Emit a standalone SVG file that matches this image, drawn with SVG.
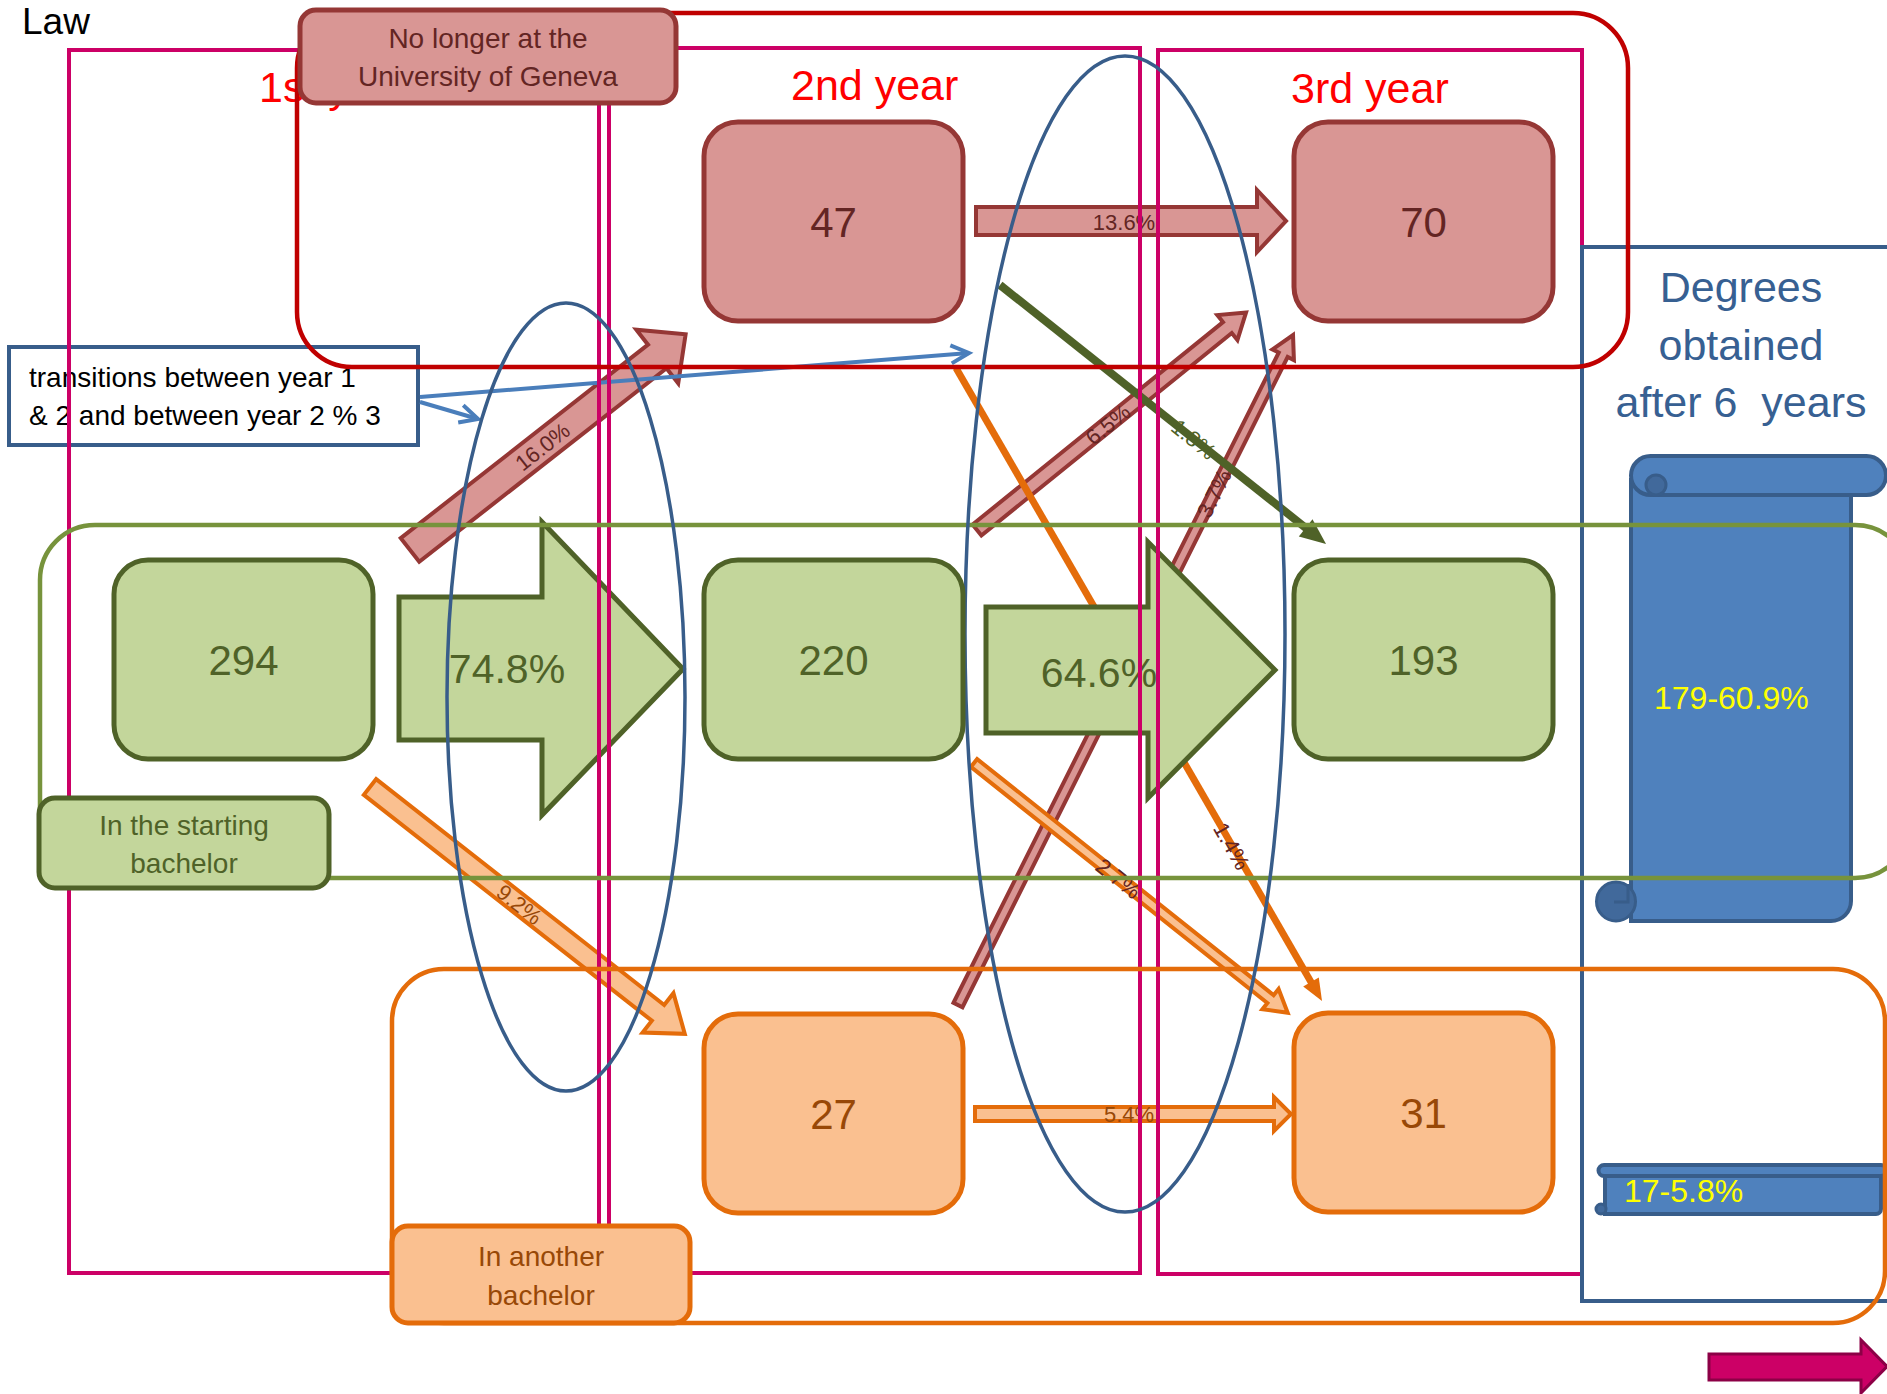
<svg xmlns="http://www.w3.org/2000/svg" width="1887" height="1394" viewBox="0 0 1887 1394">
<defs>
<style>
text{font-family:"Liberation Sans",Arial,sans-serif}
.year{fill:none;stroke:#CC0066;stroke-width:4}
.ell{fill:none;stroke:#385D8A;stroke-width:3.5}
.grp{fill:none;stroke-width:4.5}
.node rect{stroke-width:5}
.g rect{fill:#C3D69B;stroke:#4F6228}
.p rect{fill:#D99694;stroke:#953735}
.o rect{fill:#FAC090;stroke:#E46C0A}
.g text{fill:#4F6228}
.p text{fill:#632523}
.o text{fill:#984807}
.num{font-size:42px;text-anchor:middle}
.cat{font-size:28px;text-anchor:middle}
.yl{font-size:43px;fill:#FF0000}
.lbl{font-size:22px;text-anchor:middle}
.pArr{fill:#D99694;stroke:#953735;stroke-width:4;stroke-linejoin:miter}
.oArr{fill:#FAC090;stroke:#E46C0A;stroke-width:4;stroke-linejoin:miter}
.bigArr{fill:#C3D69B;stroke:#4F6228;stroke-width:5}
.scroll{fill:#4F81BD;stroke:#385D8A;stroke-width:4}
.curl{fill:#41699B;stroke:#385D8A;stroke-width:3}
.blueLine{fill:none;stroke:#4A7EBB;stroke-width:4}
</style>
<marker id="mGreen" markerUnits="userSpaceOnUse" markerWidth="26" markerHeight="22" refX="4" refY="11" orient="auto" overflow="visible"><path d="M0,0 L26,11 L0,22 Z" fill="#4F6228"/></marker>
<marker id="mOrange" markerUnits="userSpaceOnUse" markerWidth="22" markerHeight="18" refX="4" refY="9" orient="auto" overflow="visible"><path d="M0,0 L22,9 L0,18 Z" fill="#E46C0A"/></marker>
<marker id="mBlue" markerUnits="userSpaceOnUse" markerWidth="20" markerHeight="20" refX="18" refY="9" orient="auto" overflow="visible"><path d="M0,0 L18,9 L0,18" fill="none" stroke="#4A7EBB" stroke-width="4"/></marker>
</defs>
<rect width="1887" height="1394" fill="#FFFFFF"/>

<g id="title"><text x="22" y="34" font-size="37" fill="#000000">Law</text></g>

<g id="legend">
<rect x="9" y="347" width="409" height="98" fill="none" stroke="#385D8A" stroke-width="4"/>
<text x="29" y="387" font-size="28" fill="#000000">transitions between year 1</text>
<text x="29" y="425" font-size="28" fill="#000000">&amp; 2 and between year 2 % 3</text>
</g>

<g id="degrees-scrolls">
<path class="scroll" d="M1631,480 V921 H1831 A20,20 0 0 0 1851,901 V480 Z"/>
<circle class="curl" cx="1616" cy="901.5" r="19.5" fill="#4672AA"/>
<path d="M1628,884 V902 H1614" fill="none" stroke="#385D8A" stroke-width="3"/>
<path class="scroll" d="M1650.5,456 H1866.5 A19.5,19.5 0 0 1 1866.5,495 H1650.5 A19.5,19.5 0 0 1 1650.5,456 Z"/>
<circle class="curl" cx="1656" cy="485" r="10"/>
<text x="1654" y="709" font-size="32" fill="#FFFF00">179-60.9%</text>
<path class="scroll" d="M1605,1172 V1214 H1876 A5,5 0 0 0 1881,1209 V1172 Z"/>
<path class="scroll" d="M1604,1165 H1881 A5.5,5.5 0 0 1 1881,1176 H1604 A5.5,5.5 0 0 1 1604,1165 Z" fill="#3B5E8C"/>
<circle class="curl" cx="1601" cy="1209" r="5"/>
<text x="1624" y="1202" font-size="32" fill="#FFFF00">17-5.8%</text>
</g>

<g id="connectors">
<polygon class="pArr" points="976,207 1257,207 1257,190 1286,221 1257,252 1257,235 976,235"/>
<text class="lbl" x="1124" y="230" fill="#632523">13.6%</text>

<polygon class="oArr" points="975,1107 1274,1107 1274,1097 1291,1114 1274,1131 1274,1121 975,1121"/>
<text class="lbl" x="1129" y="1122" fill="#984807">5.4%</text>

<g transform="translate(410 550) rotate(-38.05)">
<path class="pArr" d="M0,-15 H314 V-34 L350,0 L314,34 V15 H0 Z"/>
<text class="lbl" x="168" y="8" fill="#632523">16.0%</text>
</g>
<g transform="translate(977 530) rotate(-38.96)">
<path class="pArr" d="M0,-7 H322 V-16 L346,0 L322,16 V7 H0 Z"/>
<text class="lbl" x="168" y="8" fill="#632523">6.5%</text>
</g>
<g transform="translate(958 1005) rotate(-63.43)">
<path class="pArr" d="M0,-5 H727 V-12 L749,0 L727,12 V5 H0 Z"/>
<text class="lbl" x="572" y="8" fill="#632523">3.7%</text>
</g>
<g transform="translate(370 787) rotate(38.1)">
<path class="oArr" d="M0,-10 H366 V-25 L400,0 L366,25 V10 H0 Z"/>
<text class="lbl" x="190" y="8" fill="#984807">9.2%</text>
</g>
<g transform="translate(974 763) rotate(38.53)">
<path class="oArr" d="M0,-5 H379 V-13 L401,0 L379,13 V5 H0 Z"/>
<text class="lbl" x="185" y="8" fill="#632523">2.7%</text>
</g>

<line x1="956" y1="368" x2="1313" y2="985.4" stroke="#E46C0A" stroke-width="7" marker-end="url(#mOrange)"/>
<text class="lbl" transform="translate(1232 846) rotate(59.96)" x="0" y="8" fill="#632523">1.4%</text>

<line x1="1000" y1="285" x2="1308.8" y2="530.3" stroke="#4F6228" stroke-width="8" marker-end="url(#mGreen)"/>
<text class="lbl" transform="translate(1194 439) rotate(38.5)" x="0" y="8" fill="#4F6228">1.8%</text>

<polygon class="bigArr" points="399,597 542,597 542,522 683,669 542,815 542,740 399,740"/>
<text x="507" y="683" font-size="41" text-anchor="middle" fill="#4F6228">74.8%</text>
<polygon class="bigArr" points="986,607 1148,607 1148,542 1275,670 1148,798 1148,733 986,733"/>
<text x="1099" y="687" font-size="41" text-anchor="middle" fill="#4F6228">64.6%</text>

<line class="blueLine" x1="420" y1="397" x2="969" y2="353" marker-end="url(#mBlue)"/>
<line class="blueLine" x1="420" y1="402" x2="478" y2="419" marker-end="url(#mBlue)"/>
</g>

<g id="year1">
<text class="yl" x="259" y="102">1st year</text>
<rect class="year" x="69" y="50" width="530" height="1223"/>
</g>
<g id="year2">
<rect class="year" x="609" y="48" width="531" height="1225"/>
<text class="yl" x="791" y="100">2nd year</text>
</g>
<g id="year3">
<rect class="year" x="1158" y="50" width="424" height="1224"/>
<text class="yl" x="1291" y="103">3rd year</text>
</g>

<g id="degrees">
<rect x="1582" y="247" width="330" height="1054" fill="none" stroke="#385D8A" stroke-width="4"/>
<text x="1741" y="302" font-size="43" text-anchor="middle" fill="#376092">Degrees</text>
<text x="1741" y="360" font-size="43" text-anchor="middle" fill="#376092">obtained</text>
<text x="1741" y="417" font-size="43" text-anchor="middle" fill="#376092" xml:space="preserve" style="white-space:pre">after 6  years</text>
</g>

<g id="group-left"><rect class="grp" x="297" y="13" width="1331" height="354" rx="55" stroke="#C00000"/></g>
<g id="group-starting"><rect class="grp" x="40" y="525" width="1870" height="353" rx="55" stroke="#77933C" stroke-width="4"/></g>
<g id="group-another"><rect class="grp" x="392" y="969" width="1493" height="354" rx="52" stroke="#E46C0A"/></g>

<g id="transition-1-2"><ellipse class="ell" cx="566" cy="697" rx="119" ry="394"/></g>
<g id="transition-2-3"><ellipse class="ell" cx="1125" cy="634" rx="160" ry="578"/></g>

<g id="n294" class="node g"><rect x="114" y="560" width="259" height="199" rx="34"/><text class="num" x="243.5" y="675">294</text></g>
<g id="n47" class="node p"><rect x="704" y="122" width="259" height="199" rx="34"/><text class="num" x="833.5" y="237">47</text></g>
<g id="n70" class="node p"><rect x="1294" y="122" width="259" height="199" rx="34"/><text class="num" x="1423.5" y="237">70</text></g>
<g id="n220" class="node g"><rect x="704" y="560" width="259" height="199" rx="34"/><text class="num" x="833.5" y="675">220</text></g>
<g id="n193" class="node g"><rect x="1294" y="560" width="259" height="199" rx="34"/><text class="num" x="1423.5" y="675">193</text></g>
<g id="n27" class="node o"><rect x="704" y="1014" width="259" height="199" rx="34"/><text class="num" x="833.5" y="1129">27</text></g>
<g id="n31" class="node o"><rect x="1294" y="1013" width="259" height="199" rx="34"/><text class="num" x="1423.5" y="1128">31</text></g>

<g id="cat-left" class="node p"><rect x="300" y="10" width="376" height="93" rx="16"/><text class="cat" x="488" y="48">No longer at the</text><text class="cat" x="488" y="86">University of Geneva</text></g>
<g id="cat-starting" class="node g"><rect x="39" y="798" width="290" height="90" rx="16"/><text class="cat" x="184" y="835">In the starting</text><text class="cat" x="184" y="873">bachelor</text></g>
<g id="cat-another" class="node o"><rect x="392" y="1226" width="298" height="97" rx="16"/><text class="cat" x="541" y="1266">In another</text><text class="cat" x="541" y="1305">bachelor</text></g>

<g id="next-arrow"><polygon points="1709,1354 1861,1354 1861,1340 1887,1366.5 1861,1393 1861,1380 1709,1380" fill="#CC0066" stroke="#8C0046" stroke-width="3"/></g>
</svg>
